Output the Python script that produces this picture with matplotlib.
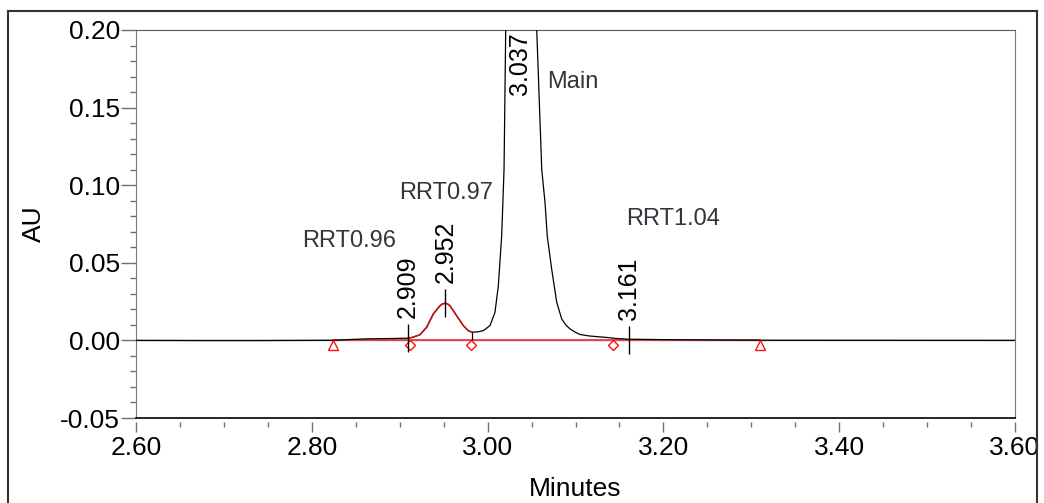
import matplotlib
matplotlib.use('Agg')
import matplotlib.pyplot as plt
import numpy as np
from matplotlib.ticker import MultipleLocator, FormatStrFormatter
from matplotlib.lines import Line2D
import matplotlib.transforms as mtransforms

plt.rcParams['font.family'] = ['Liberation Sans', 'DejaVu Sans']

# chromatogram trace (minutes, AU)
time_min = [2.600, 2.673, 2.741, 2.824, 2.8625, 2.889, 2.908, 2.912, 2.9155, 2.9231,
            2.9307, 2.9382, 2.9458, 2.9485, 2.9515, 2.9545, 2.9572, 2.9648, 2.9724,
            2.9780, 2.9819, 2.9890, 2.9951, 3.0027, 3.0084, 3.0122, 3.0160, 3.0187,
            3.0206, 3.0240, 3.0300, 3.0370, 3.0440, 3.0500, 3.0559, 3.0616, 3.0653,
            3.0679, 3.0729, 3.0786, 3.0843, 3.0890, 3.0937, 3.1000, 3.1051, 3.1150,
            3.1250, 3.1355, 3.1450, 3.1582, 3.2000, 3.2493, 3.3100, 3.6000]
absorbance = [0.0000, -0.0001, -0.0001, 0.0001, 0.0010, 0.0012, 0.0014, 0.0017, 0.0021, 0.0037,
              0.0085, 0.0170, 0.0223, 0.0235, 0.0239, 0.0235, 0.0223, 0.0159, 0.0095,
              0.0063, 0.0053, 0.0055, 0.0063, 0.0095, 0.0181, 0.0352, 0.0673, 0.1101,
              0.2000, 0.3500, 0.5500, 0.6200, 0.5500, 0.3500, 0.2000, 0.1101, 0.0889,
              0.0671, 0.0459, 0.0247, 0.0138, 0.0100, 0.0074, 0.0052, 0.0038, 0.0029,
              0.0024, 0.0019, 0.0013, 0.0008, 0.0005, 0.0003, 0.0001, 0.0000]

# integrated impurity peak (drawn red)
red_start, red_end = 2.912, 2.982

# retention time labels
rt_labels = ['2.909', '2.952', '3.161']
rt_times = [2.909, 2.952, 3.161]
rt_heights = [0.0014, 0.0239, 0.0005]
main_label = '3.037'
main_rt = 3.037

# peak names
peak_names = ['RRT0.96', 'RRT0.97', 'Main', 'RRT1.04']
name_x = [2.843, 2.953, 3.097, 3.211]
name_y = [0.0639, 0.0947, 0.1667, 0.0780]

# integration baseline and markers
baseline_start, baseline_end = 2.824, 3.310
triangle_times = [2.824, 3.310]
diamond_times = [2.912, 2.981, 3.143]
valley_time, valley_height = 2.982, 0.0053

fig = plt.figure(figsize=(10.44, 5.03), dpi=100)
W, H = 1044, 503
PX = 72.0 / 100  # points per pixel
ax = fig.add_axes([136 / W, 1 - 418 / H, 879 / W, 388 / H])

ax.set_xlim(2.60, 3.60)
ax.set_ylim(-0.05, 0.20)

# zero line
ax.axhline(0, color='#808080', lw=1.0, zorder=1)

t = np.array(time_min)
a = np.array(absorbance)
ax.plot(t, a, color='black', lw=0.9, zorder=3)
m = (t >= red_start - 1e-9) & (t <= red_end + 1e-9)
ax.plot(t[m], a[m], color='#c81414', lw=1.1, zorder=4)

# baseline
ax.plot([baseline_start, baseline_end], [0, 0], color='#f03c3c', lw=1.3, zorder=2)

# valley drop line
ax.vlines(valley_time, 0, valley_height, color='black', lw=0.9, zorder=3)

# markers slightly below baseline
off = mtransforms.offset_copy(ax.transData, fig=fig, x=0, y=-5, units='dots')
ax.plot(triangle_times, [0] * len(triangle_times), linestyle='none', marker='^',
        markersize=7.5, markerfacecolor='none', markeredgecolor='#ff1010',
        markeredgewidth=1.0, transform=off, zorder=5)
off2 = mtransforms.offset_copy(ax.transData, fig=fig, x=0, y=-4.5, units='dots')
ax.plot(diamond_times, [0] * len(diamond_times), linestyle='none', marker='D',
        markersize=5.5, markerfacecolor='none', markeredgecolor='#ff1010',
        markeredgewidth=1.0, transform=off2, zorder=5)

# retention time ticks and labels
for lbl, rt, h in zip(rt_labels, rt_times, rt_heights):
    ax.vlines(rt, h - 0.009, h + 0.009, color='black', lw=1.0, zorder=6)
    ax.annotate(lbl, xy=(rt, h), xytext=(0, 20), textcoords='offset pixels',
                rotation=90, ha='center', va='bottom', fontsize=18, color='black')

ax.annotate(main_label, xy=(main_rt, 1), xycoords=('data', 'axes fraction'),
            xytext=(0, -2), textcoords='offset pixels', rotation=90,
            ha='center', va='top', fontsize=18, color='black')

for name, x, y in zip(peak_names, name_x, name_y):
    ax.text(x, y, name, ha='center', va='center', fontsize=17, color='#34343c')

# ticks
ax.xaxis.set_major_locator(MultipleLocator(0.2))
ax.xaxis.set_minor_locator(MultipleLocator(0.05))
ax.yaxis.set_major_locator(MultipleLocator(0.05))
ax.yaxis.set_minor_locator(MultipleLocator(0.01))
ax.xaxis.set_major_formatter(FormatStrFormatter('%.2f'))
ax.yaxis.set_major_formatter(FormatStrFormatter('%.2f'))

ax.tick_params(axis='y', which='major', length=15 * PX, width=1, color='#707070',
               pad=1 * PX, labelsize=19)
ax.tick_params(axis='y', which='minor', length=6 * PX, width=1, color='#707070')
ax.tick_params(axis='x', which='major', length=10 * PX, width=1, color='#707070',
               pad=4 * PX, labelsize=19)
ax.tick_params(axis='x', which='minor', length=5 * PX, width=1, color='#707070')

# spines
ax.spines['left'].set_color('#7a7a7a')
ax.spines['right'].set_color('#7a7a7a')
ax.spines['top'].set_color('#555555')
ax.spines['bottom'].set_position(('outward', 4 * PX))
ax.spines['bottom'].set_visible(False)
ax.plot([0, 1], [0, 0], transform=ax.transAxes, color='black', lw=1.2, clip_on=False, zorder=7)

ax.set_xlabel('Minutes', fontsize=19)
ax.set_ylabel('AU', fontsize=19)
ax.xaxis.set_label_coords(0.5, -0.152)
ax.yaxis.set_label_coords(-0.102, 0.5)

# outer frame
x0, x1, ytop = 8 / W, 1037 / W, 1 - 11 / H
for xs, ys in [([x0, x0], [-0.02, ytop]), ([x0, x1], [ytop, ytop]), ([x1, x1], [ytop, -0.02])]:
    fig.add_artist(Line2D(xs, ys, transform=fig.transFigure, color='#333333', lw=1.5))

fig.savefig('out.png', dpi=100)
